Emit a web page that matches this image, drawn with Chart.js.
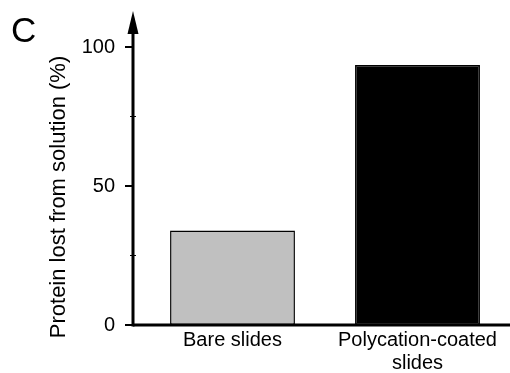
<!DOCTYPE html>
<html>
<head>
<meta charset="utf-8">
<script src="https://cdn.jsdelivr.net/npm/chart.js@4"></script>
<style>
  html, body { margin: 0; padding: 0; background: #fff; }
  #wrap { width: 510px; height: 373px; }
</style>
</head>
<body>
<div id="wrap"><canvas id="chart" width="510" height="373"></canvas></div>
<script>
const categories = [['Bare slides'], ['Polycation-coated', 'slides']];
const proteinLost = [34, 93.5];
const yTicks = [0, 50, 100];
const minorTicks = [25, 75];

const barColors = ['#c0c0c0', '#000000'];
const FONT = 'Liberation Sans, Arial, Helvetica, sans-serif';

// axis line with arrow, ticks, panel letter and y title drawn by hand
const axesPlugin = {
  id: 'axesPlugin',
  afterDraw(chart) {
    const ctx = chart.ctx;
    const y = chart.scales.y;
    const axisX = 133;
    const y0 = y.getPixelForValue(0);

    ctx.save();
    ctx.strokeStyle = '#000';
    ctx.fillStyle = '#000';

    // x axis
    ctx.lineWidth = 3;
    ctx.beginPath();
    ctx.moveTo(axisX, y0);
    ctx.lineTo(510, y0);
    ctx.stroke();

    // y axis up to arrow
    ctx.beginPath();
    ctx.moveTo(axisX, y0 + 1.5);
    ctx.lineTo(axisX, 30);
    ctx.stroke();

    // arrow head
    ctx.beginPath();
    ctx.moveTo(axisX, 11);
    ctx.lineTo(axisX - 5.5, 34);
    ctx.lineTo(axisX + 5.5, 34);
    ctx.closePath();
    ctx.fill();

    // major ticks
    ctx.lineWidth = 2;
    yTicks.forEach(v => {
      const py = y.getPixelForValue(v);
      ctx.beginPath();
      ctx.moveTo(axisX - 8, py);
      ctx.lineTo(axisX, py);
      ctx.stroke();
    });
    // minor ticks
    ctx.lineWidth = 1;
    minorTicks.forEach(v => {
      const py = y.getPixelForValue(v);
      ctx.beginPath();
      ctx.moveTo(axisX - 3, py);
      ctx.lineTo(axisX + 3, py);
      ctx.stroke();
    });

    // panel letter
    ctx.font = '35px ' + FONT;
    ctx.textAlign = 'left';
    ctx.textBaseline = 'alphabetic';
    ctx.fillText('C', 11, 42);

    // y title
    ctx.translate(65, 197);
    ctx.rotate(-Math.PI / 2);
    ctx.font = '22px ' + FONT;
    ctx.textAlign = 'center';
    ctx.textBaseline = 'alphabetic';
    ctx.fillText('Protein lost from solution (%)', 0, 0);
    ctx.restore();
  }
};

new Chart(document.getElementById('chart').getContext('2d'), {
  type: 'bar',
  data: {
    labels: categories,
    datasets: [{
      data: proteinLost,
      backgroundColor: barColors,
      borderColor: '#000',
      borderWidth: 1.5,
      borderSkipped: false,
      barPercentage: 0.675,
      categoryPercentage: 1
    }]
  },
  options: {
    responsive: false,
    animation: false,
    layout: { padding: { top: 47, left: 0, right: 0, bottom: 0 } },
    plugins: {
      legend: { display: false },
      tooltip: { enabled: false }
    },
    scales: {
      x: {
        grid: { display: false },
        border: { display: false },
        ticks: {
          color: '#000',
          font: { family: FONT, size: 20, lineHeight: 1.15 },
          padding: -4,
          maxRotation: 0
        },
        afterFit(scale) { scale.height = 48; }
      },
      y: {
        min: 0,
        max: 100,
        grid: { display: false },
        border: { display: false },
        ticks: {
          stepSize: 50,
          color: '#000',
          font: { family: FONT, size: 20 },
          padding: 17
        },
        afterFit(scale) { scale.width = 140; }
      }
    }
  },
  plugins: [axesPlugin]
});
</script>
</body>
</html>
